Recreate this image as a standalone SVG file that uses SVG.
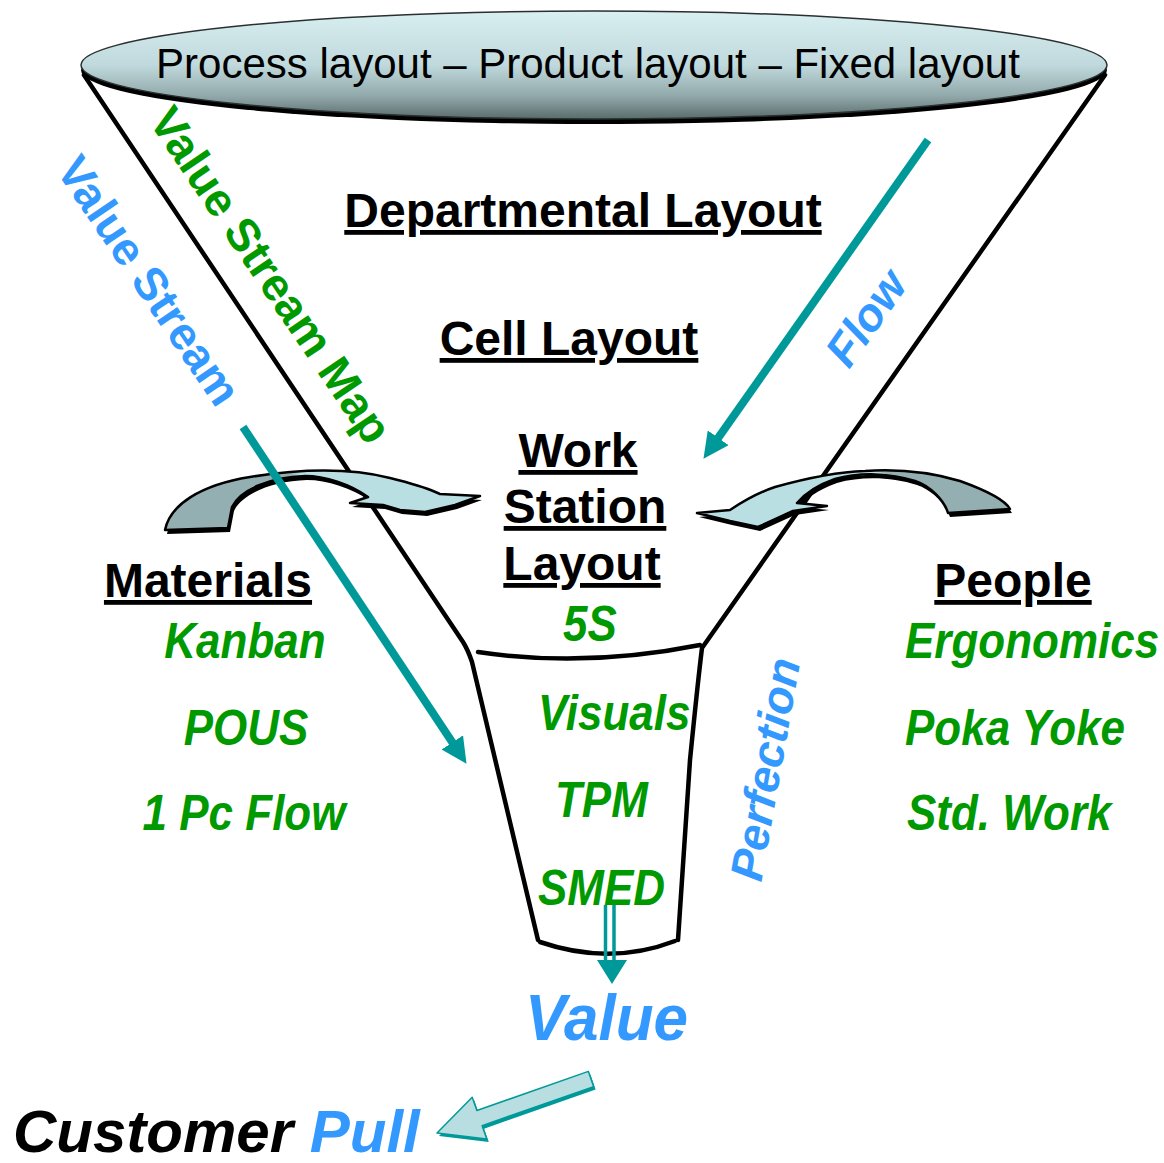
<svg xmlns="http://www.w3.org/2000/svg" width="1164" height="1163" viewBox="0 0 1164 1163">
  <defs>
    <linearGradient id="capFill" x1="0" y1="0" x2="0" y2="1">
      <stop offset="0" stop-color="#d9eff1"/>
      <stop offset="0.5" stop-color="#c0d9dc"/>
      <stop offset="0.78" stop-color="#93aaac"/>
      <stop offset="1" stop-color="#5a6d6d"/>
    </linearGradient>
    <linearGradient id="bendLeft" gradientUnits="userSpaceOnUse" x1="165" y1="0" x2="480" y2="0">
      <stop offset="0" stop-color="#93afb2"/>
      <stop offset="0.40" stop-color="#93afb2"/>
      <stop offset="0.43" stop-color="#b9dfe2"/>
      <stop offset="1" stop-color="#b9dfe2"/>
    </linearGradient>
    <linearGradient id="bendRight" gradientUnits="userSpaceOnUse" x1="697" y1="0" x2="1012" y2="0">
      <stop offset="0" stop-color="#b9dfe2"/>
      <stop offset="0.57" stop-color="#b9dfe2"/>
      <stop offset="0.60" stop-color="#93afb2"/>
      <stop offset="1" stop-color="#93afb2"/>
    </linearGradient>
    <marker id="tealHead" viewBox="0 0 10 10" refX="3" refY="5" markerWidth="3.2" markerHeight="3.2" orient="auto" markerUnits="strokeWidth">
      <path d="M0,0 L10,5 L0,10 Z" fill="#009999"/>
    </marker>
    <style>
      .hdr { font-family: "Liberation Sans", Arial, sans-serif; font-weight: bold; font-size: 48px; fill: #000; text-decoration: underline; }
      .grn { font-family: "Liberation Sans", Arial, sans-serif; font-weight: bold; font-style: italic; font-size: 44px; fill: #009900; }
      .blu { font-family: "Liberation Sans", Arial, sans-serif; font-weight: bold; fill: #3399ff; }
      .rot { font-family: "Liberation Sans", Arial, sans-serif; font-weight: bold; font-size: 46px; }
      .funnel { fill: none; stroke: #000; stroke-width: 4.5; stroke-linejoin: round; stroke-linecap: round; }
      .teal { fill: none; stroke: #009999; stroke-width: 8; }
      .bend { stroke: #000; stroke-width: 2.5; stroke-linejoin: round; }
    </style>
  </defs>

  <rect width="1164" height="1163" fill="#fff"/>

  <!-- funnel outline -->
  <g id="funnel">
    <path class="funnel" d="M84,75 L463,642 Q468,650 472,662 L538,940"/>
    <path class="funnel" d="M1105,75 L702,648 Q698,680 690,760 L678,940"/>
    <path class="funnel" d="M478,652 Q585,668 700,645"/>
    <path class="funnel" d="M540,942 Q610,966 675,941"/>
  </g>

  <!-- top cap -->
  <g id="cap">
    <ellipse cx="594" cy="70" rx="513" ry="54" fill="#000"/>
    <ellipse cx="594" cy="65" rx="513" ry="54" fill="url(#capFill)" stroke="#2a3030" stroke-width="1.5"/>
    <text x="588" y="78" text-anchor="middle" font-family="'Liberation Sans', Arial, sans-serif" font-size="42" fill="#000">Process layout – Product layout – Fixed layout</text>
  </g>

  <!-- curved arrow from the materials side -->
  <g id="materials-bend">
    <path fill="#000" transform="translate(2,4)" d="M165,530 C170,505 200,485 250,477 S350,468 390,478 S430,490 440,494 L480,496 L455,505 L425,512 L400,510 L383,505 L350,503 L368,497 C350,484 325,476 305,476 C270,477 240,490 232,507 L228,528 Z"/>
    <path class="bend" fill="url(#bendLeft)" d="M165,530 C170,505 200,485 250,477 S350,468 390,478 S430,490 440,494 L480,496 L455,505 L425,512 L400,510 L383,505 L350,503 L368,497 C350,484 325,476 305,476 C270,477 240,490 232,507 L228,528 Z"/>
  </g>

  <!-- curved arrow from the people side -->
  <g id="people-bend">
    <path fill="#000" transform="translate(2,4)" d="M697,513 L730,510 C745,500 760,492 775,487 C800,480 835,472 865,471 C895,469 930,472 960,481 C985,490 1005,500 1010,509 L948,513 C944,500 930,486 915,481 C890,473 860,472 835,479 C815,486 803,496 797,503 L827,506 L793,511 L758,527 L730,521 Z"/>
    <path class="bend" fill="url(#bendRight)" d="M697,513 L730,510 C745,500 760,492 775,487 C800,480 835,472 865,471 C895,469 930,472 960,481 C985,490 1005,500 1010,509 L948,513 C944,500 930,486 915,481 C890,473 860,472 835,479 C815,486 803,496 797,503 L827,506 L793,511 L758,527 L730,521 Z"/>
  </g>

  <!-- connectors -->
  <g id="connectors">
    <line class="teal" x1="243" y1="427" x2="456.6" y2="748.8" marker-end="url(#tealHead)"/>
    <line class="teal" x1="928" y1="140" x2="713.8" y2="444.1" marker-end="url(#tealHead)"/>
    <line x1="605.5" y1="905" x2="605.5" y2="962" stroke="#009999" stroke-width="3.5"/>
    <line x1="614" y1="905" x2="614" y2="962" stroke="#009999" stroke-width="3.5"/>
    <path d="M597,960 L627,960 L612,984 Z" fill="#009999"/>
    <path transform="translate(2,3)" fill="#009999" d="M588.4,1071.4 L476.9,1110.5 L472.2,1097.3 L437,1133 L486.8,1138.9 L482.1,1125.7 L593.6,1086.6 Z"/>
    <path fill="#b8dee1" stroke="#009999" stroke-width="1.5" stroke-linejoin="round" d="M588.4,1071.4 L476.9,1110.5 L472.2,1097.3 L437,1133 L486.8,1138.9 L482.1,1125.7 L593.6,1086.6 Z"/>
  </g>

  <!-- layout levels -->
  <g id="departmental">
    <text class="hdr" x="583" y="227" text-anchor="middle">Departmental Layout</text>
  </g>
  <g id="cell">
    <text class="hdr" x="569" y="355" text-anchor="middle">Cell Layout</text>
  </g>
  <g id="workstation">
    <text class="hdr" x="578" y="467" text-anchor="middle">Work</text>
    <text class="hdr" x="585" y="523" text-anchor="middle">Station</text>
    <text class="hdr" x="582" y="580" text-anchor="middle">Layout</text>
  </g>

  <!-- tools inside the neck -->
  <g id="neck-tools">
    <text class="grn" transform="translate(563,641) scale(1,1.12)">5S</text>
    <text class="grn" transform="translate(538,730) scale(1,1.12)">Visuals</text>
    <text class="grn" transform="translate(555,817) scale(1,1.12)">TPM</text>
    <text class="grn" transform="translate(538,905) scale(1,1.12)">SMED</text>
  </g>

  <!-- materials column -->
  <g id="materials">
    <text class="hdr" x="208" y="597" text-anchor="middle">Materials</text>
    <text class="grn" transform="translate(245,658) scale(1,1.12)" text-anchor="middle">Kanban</text>
    <text class="grn" transform="translate(246,745) scale(1,1.12)" text-anchor="middle">POUS</text>
    <text class="grn" transform="translate(244,830) scale(1,1.12)" text-anchor="middle">1 Pc Flow</text>
  </g>

  <!-- people column -->
  <g id="people">
    <text class="hdr" x="1013" y="597" text-anchor="middle">People</text>
    <text class="grn" transform="translate(905,658) scale(1,1.12)">Ergonomics</text>
    <text class="grn" transform="translate(905,745) scale(1,1.12)">Poka Yoke</text>
    <text class="grn" transform="translate(907,830) scale(1,1.12)">Std. Work</text>
  </g>

  <!-- slanted labels -->
  <g id="value-stream-map">
    <text class="rot" fill="#009900" transform="translate(271,275) rotate(56)" text-anchor="middle" y="16">Value Stream Map</text>
  </g>
  <g id="value-stream">
    <text class="rot" fill="#3399ff" font-size="48" transform="translate(150,280) rotate(56)" text-anchor="middle" y="17">Value Stream</text>
  </g>
  <g id="flow">
    <text class="rot" fill="#3399ff" font-style="italic" transform="translate(866,318) rotate(-55)" text-anchor="middle" y="16">Flow</text>
  </g>
  <g id="perfection">
    <text class="rot" fill="#3399ff" font-style="italic" font-size="48" transform="translate(764,769) rotate(-80)" text-anchor="middle" y="17">Perfection</text>
  </g>

  <!-- outcome -->
  <g id="value">
    <text class="blu" font-style="italic" font-size="62" transform="translate(525,1040) scale(1,1.05)">Value</text>
  </g>
  <g id="customer-pull">
    <text font-family="'Liberation Sans', Arial, sans-serif" font-weight="bold" font-style="italic" font-size="60" fill="#000" x="13" y="1152">Customer <tspan fill="#3399ff">Pull</tspan></text>
  </g>
</svg>
